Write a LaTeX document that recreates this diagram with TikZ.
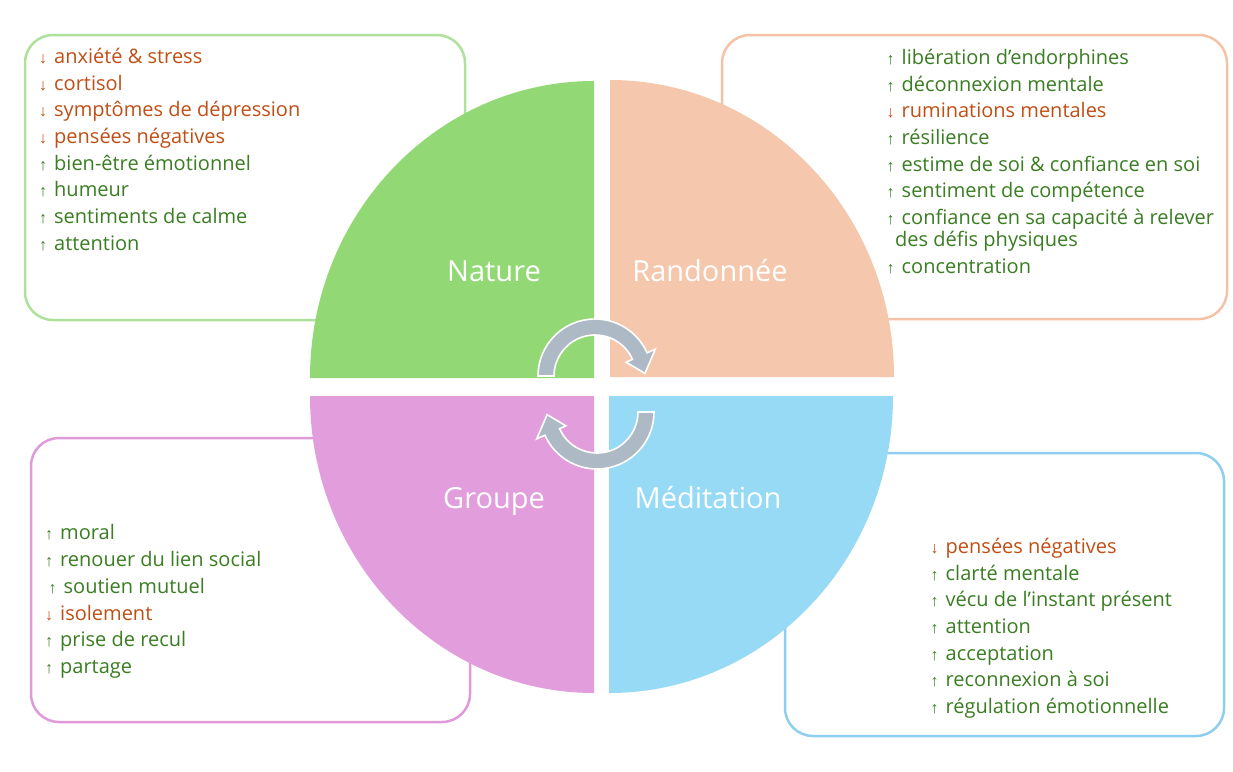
\documentclass[tikz,border=0pt]{standalone}
\usepackage{fontspec}
\setmainfont{Open Sans}
\newfontfamily\arrfont{Liberation Sans}
\definecolor{qgreen}{HTML}{92D976}
\definecolor{qpeach}{HTML}{F5C7AC}
\definecolor{qpurple}{HTML}{E29EDC}
\definecolor{qblue}{HTML}{97DAF5}
\definecolor{bgreen}{HTML}{AEE29A}
\definecolor{bpeach}{HTML}{F4C2A6}
\definecolor{bpurple}{HTML}{E09ADA}
\definecolor{bblue}{HTML}{8ECEEE}
\definecolor{txtgreen}{HTML}{3A7D22}
\definecolor{txtorange}{HTML}{C04F15}
\definecolor{arrowgray}{HTML}{ADB9C5}
\newcommand\upi[1]{\textcolor{txtgreen}{{\arrfont\fontsize{16}{16}\selectfont ↑}\hspace{7pt}#1}}
\newcommand\dni[1]{\textcolor{txtorange}{{\arrfont\fontsize{16}{16}\selectfont ↓}\hspace{7pt}#1}}
\tikzset{
  listbox/.style={rounded corners=28pt, line width=2.5pt, fill=white},
  itemtext/.style={anchor=base west, inner sep=0pt, font=\fontsize{20}{24}\selectfont},
  quadlabel/.style={anchor=base, inner sep=0pt, text=white, font=\fontsize{29}{34}\selectfont},
  cyclearrow/.style={fill=arrowgray, draw=white, line width=1.6pt, line join=miter},
}
\begin{document}
\begin{tikzpicture}[x=1pt, y=-1pt]
\useasboundingbox[fill=white] (0,0) rectangle (1233,771);
% boxes
\draw[listbox, draw=bgreen] (25,35) rectangle (465,320);
\draw[listbox, draw=bpeach] (722,35) rectangle (1227,319);
\draw[listbox, draw=bpurple] (31,438) rectangle (470,722);
\draw[listbox, draw=bblue] (785,453) rectangle (1224,736);
% quadrants
\fill[qgreen] (594,378) -- ++(-284,0) arc[start angle=180, end angle=270, x radius=284, y radius=297] -- cycle;
\fill[qpeach] (610,377) -- ++(284,0) arc[start angle=0, end angle=-90, x radius=284, y radius=297] -- cycle;
\fill[qpurple] (594,396) -- ++(-284,0) arc[start angle=180, end angle=90, x radius=284, y radius=297] -- cycle;
\fill[qblue] (609,396) -- ++(284,0) arc[start angle=0, end angle=90, x radius=284, y radius=297] -- cycle;
% cycle arrows
\begin{scope}[shift={(595,376)}, yscale=-1]
\filldraw[cyclearrow] (180:57) arc[start angle=180, end angle=24, radius=57] -- (24:66) -- (3:50) -- (24:34) -- (24:41) arc[start angle=24, end angle=180, radius=41] -- cycle;
\end{scope}
\begin{scope}[shift={(597,412)}, yscale=-1, rotate=180]
\filldraw[cyclearrow] (180:57) arc[start angle=180, end angle=24, radius=57] -- (24:66) -- (3:50) -- (24:34) -- (24:41) arc[start angle=24, end angle=180, radius=41] -- cycle;
\end{scope}
% labels
\node[quadlabel] (nature) at (494,281.7) {Nature};
\node[quadlabel] (rando) at (710,281.7) {Randonnée};
\node[quadlabel] (groupe) at (494,508.3) {Groupe};
\node[quadlabel] (medit) at (708,508.3) {Méditation};
% Nature list
\node[itemtext] (g1) at (39,63) {\dni{anxiété \& stress}};
\node[itemtext] (g2) at (39,90) {\dni{cortisol}};
\node[itemtext] (g3) at (39,116.7) {\dni{symptômes de dépression}};
\node[itemtext] (g4) at (39,143.3) {\dni{pensées négatives}};
\node[itemtext] (g5) at (39,170) {\upi{bien-être émotionnel}};
\node[itemtext] (g6) at (39,196.7) {\upi{humeur}};
\node[itemtext] (g7) at (39,223.3) {\upi{sentiments de calme}};
\node[itemtext] (g8) at (39,250) {\upi{attention}};
% Randonnee list
\node[itemtext] (r1) at (886.5,64.3) {\upi{libération d’endorphines}};
\node[itemtext] (r2) at (886.5,91) {\upi{déconnexion mentale}};
\node[itemtext] (r3) at (886.5,117.7) {\dni{ruminations mentales}};
\node[itemtext] (r4) at (886.5,144.3) {\upi{résilience}};
\node[itemtext] (r5) at (886.5,171) {\upi{estime de soi \& confiance en soi}};
\node[itemtext] (r6) at (886.5,197.7) {\upi{sentiment de compétence}};
\node[itemtext] (r7) at (886.5,224.3) {\upi{confiance en sa capacité à relever}};
\node[itemtext, text=txtgreen] (r7b) at (895,246.7) {des défis physiques};
\node[itemtext] (r8) at (886.5,273.3) {\upi{concentration}};
% Groupe list
\node[itemtext] (p1) at (45,539.5) {\upi{moral}};
\node[itemtext] (p2) at (45,566) {\upi{renouer du lien social}};
\node[itemtext] (p3) at (48.5,593) {\upi{soutien mutuel}};
\node[itemtext] (p4) at (45,620) {\dni{isolement}};
\node[itemtext] (p5) at (45,646.5) {\upi{prise de recul}};
\node[itemtext] (p6) at (45,673) {\upi{partage}};
% Meditation list
\node[itemtext] (m1) at (930.5,553.3) {\dni{pensées négatives}};
\node[itemtext] (m2) at (930.5,580) {\upi{clarté mentale}};
\node[itemtext] (m3) at (930.5,606.7) {\upi{vécu de l’instant présent}};
\node[itemtext] (m4) at (930.5,633.3) {\upi{attention}};
\node[itemtext] (m5) at (930.5,660) {\upi{acceptation}};
\node[itemtext] (m6) at (930.5,686.7) {\upi{reconnexion à soi}};
\node[itemtext] (m7) at (930.5,713.3) {\upi{régulation émotionnelle}};
\end{tikzpicture}
\end{document}
